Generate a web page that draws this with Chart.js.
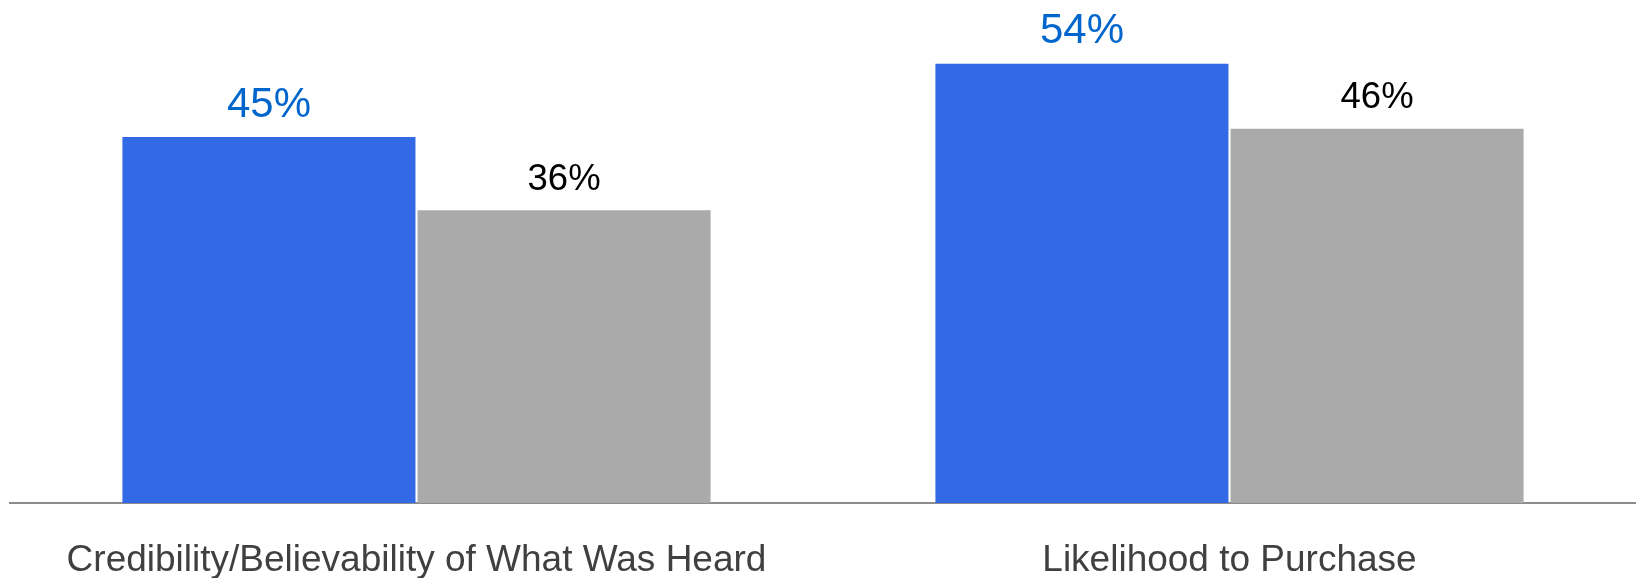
<!DOCTYPE html>
<html>
<head>
<meta charset="utf-8">
<script src="https://cdn.jsdelivr.net/npm/chart.js@4/dist/chart.umd.min.js"></script>
<style>
    html, body { margin: 0; padding: 0; background: #fff; }
    #wrap { width: 1636px; height: 578px; }
</style>
</head>
<body>
<div id="wrap"><canvas id="chart"></canvas></div>
<script>
const categories = ["Credibility/Believability of What Was Heard", "Likelihood to Purchase"];
const seriesA = [45, 54];
const seriesB = [36, 46];
const yMin = 0;
const yMax = 60;

// value labels above each bar
const barLabels = {
    id: 'barLabels',
    afterDatasetsDraw(chart) {
        const ctx = chart.ctx;
        ctx.save();
        ctx.textAlign = 'center';
        ctx.textBaseline = 'alphabetic';
        chart.data.datasets.forEach((ds, i) => {
            const meta = chart.getDatasetMeta(i);
            ctx.fillStyle = ds.labelColor;
            ctx.font = ds.labelSize + 'px "Liberation Sans", Arial, sans-serif';
            meta.data.forEach((bar, j) => {
                ctx.fillText(ds.data[j] + '%', bar.x, bar.y - 20.5);
            });
        });
        ctx.restore();
    }
};

new Chart(document.getElementById('chart'), {
    type: 'bar',
    data: {
        labels: categories,
        datasets: [{
            label: 'Series A',
            data: seriesA,
            backgroundColor: '#3469E6',
            labelColor: '#0066CC',
            labelSize: 42,
            categoryPercentage: 0.726,
            barPercentage: 0.993
        }, {
            label: 'Series B',
            data: seriesB,
            backgroundColor: '#AAAAAA',
            labelColor: '#000000',
            labelSize: 36.5,
            categoryPercentage: 0.726,
            barPercentage: 0.993
        }]
    },
    options: {
        responsive: true,
        maintainAspectRatio: false,
        animation: false,
        layout: {
            padding: { top: 15, left: 10, right: 0, bottom: 0 }
        },
        scales: {
            x: {
                grid: { display: false },
                border: { display: true, color: '#8C8C8C', width: 2 },
                ticks: {
                    color: '#404040',
                    padding: 28,
                    font: { family: '"Liberation Sans", Arial, sans-serif', size: 37 }
                },
                afterFit(scale) {
                    scale.height = 75;
                }
            },
            y: {
                display: false,
                min: yMin,
                max: yMax
            }
        },
        plugins: {
            legend: { display: false },
            tooltip: { enabled: false }
        }
    },
    plugins: [barLabels]
});
</script>
</body>
</html>
